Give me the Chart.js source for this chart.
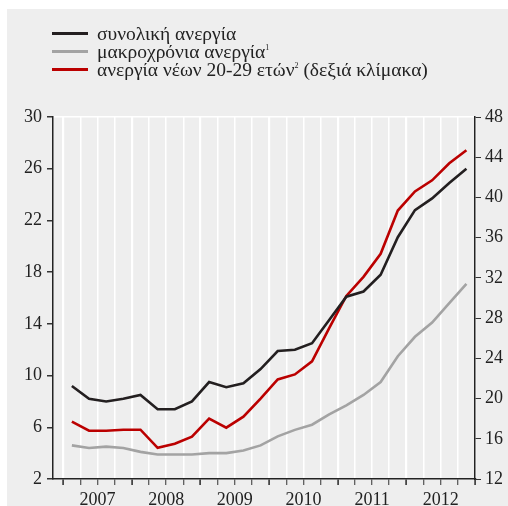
<!DOCTYPE html>
<html>
<head>
<meta charset="utf-8">
<script src="https://cdn.jsdelivr.net/npm/chart.js@4.4.0/dist/chart.umd.min.js"></script>
<style>
  body { margin: 0; background: #fff; font-family: "Liberation Serif", serif; }
  #panel { position: absolute; left: 7px; top: 9px; width: 501px; height: 497px; background: #eeeeee; }
  #legend { position: absolute; left: 52px; top: 25px; color: #222; font-size: 19.5px; }
  .row { display: flex; align-items: center; height: 17.8px; white-space: nowrap; }
  .sw { width: 36px; height: 3px; margin-right: 9px; }
  sup { font-size: 8px; vertical-align: 8px; line-height: 0; }
</style>
</head>
<body>
<div id="panel"><canvas id="chart"></canvas></div>
<div id="legend"></div>
<script>
// trimestres 2007Q1 - 2012Q4 (índice 0..23)
const quarters = ["2007Q1","2007Q2","2007Q3","2007Q4","2008Q1","2008Q2","2008Q3","2008Q4",
  "2009Q1","2009Q2","2009Q3","2009Q4","2010Q1","2010Q2","2010Q3","2010Q4",
  "2011Q1","2011Q2","2011Q3","2011Q4","2012Q1","2012Q2","2012Q3","2012Q4"];
const years = ["2007","2008","2009","2010","2011","2012"];

// συνολική ανεργία (αριστερή κλίμακα)
const total = [9.2, 8.2, 8.0, 8.2, 8.5, 7.4, 7.4, 8.0, 9.5, 9.1, 9.4, 10.5,
  11.9, 12.0, 12.5, 14.3, 16.1, 16.5, 17.8, 20.7, 22.8, 23.7, 24.9, 26.0];
// μακροχρόνια ανεργία (αριστερή κλίμακα)
const longTerm = [4.6, 4.4, 4.5, 4.4, 4.1, 3.9, 3.9, 3.9, 4.0, 4.0, 4.2, 4.6,
  5.3, 5.8, 6.2, 7.0, 7.7, 8.5, 9.5, 11.5, 13.0, 14.1, 15.6, 17.1];
// ανεργία νέων 20-29 (δεξιά κλίμακα)
const youth = [17.7, 16.8, 16.8, 16.9, 16.9, 15.1, 15.5, 16.2, 18.0, 17.1, 18.2, 20.0,
  21.9, 22.4, 23.7, 27.0, 30.2, 32.1, 34.4, 38.7, 40.6, 41.7, 43.4, 44.7];

const leftTicks = [2, 6, 10, 14, 18, 22, 26, 30];
const rightTicks = [12, 16, 20, 24, 28, 32, 36, 40, 44, 48];

const legendItems = [
  { color: "#231f20", html: "συνολική ανεργία" },
  { color: "#a3a3a3", html: "μακροχρόνια ανεργία<sup>1</sup>" },
  { color: "#bb0000", html: "ανεργία νέων 20-29 ετών<sup>2</sup> (δεξιά κλίμακα)" },
];

const toPoints = (arr) => arr.map((v, i) => ({ x: i, y: v }));

// όρια τριμήνων για τις κάθετες γραμμές
const boundaries = [];
for (let i = 0; i <= quarters.length; i++) boundaries.push(i - 0.5);
const isYearEdge = (v) => Math.abs(((v + 0.5) % 4)) < 1e-6;

Chart.defaults.font.family = "'Liberation Serif', serif";
Chart.defaults.font.size = 18;
Chart.defaults.color = "#222";

const ctx = document.getElementById("chart").getContext("2d");
new Chart(ctx, {
  type: "line",
  data: {
    datasets: [
      { label: "συνολική ανεργία", data: toPoints(total), borderColor: "#231f20", yAxisID: "y" },
      { label: "μακροχρόνια ανεργία", data: toPoints(longTerm), borderColor: "#a3a3a3", yAxisID: "y" },
      { label: "ανεργία νέων 20-29 ετών", data: toPoints(youth), borderColor: "#bb0000", yAxisID: "y1" },
    ],
  },
  options: {
    responsive: true,
    maintainAspectRatio: false,
    animation: false,
    layout: { padding: { top: 108, left: 0, right: 0, bottom: 0 } },
    elements: {
      line: { borderWidth: 2.6, tension: 0, fill: false },
      point: { radius: 0 },
    },
    plugins: { legend: { display: false }, tooltip: { enabled: false } },
    scales: {
      x: {
        type: "linear",
        min: -1.1,
        max: 23.5,
        afterBuildTicks: (scale) => {
          scale.ticks = boundaries.map((v) => ({ value: v }));
        },
        afterFit: (scale) => { scale.height = 27; },
        ticks: {
          autoSkip: false,
          maxRotation: 0,
          padding: 4,
          callback: (v) => {
            const k = (v - 1.5) / 4;
            return Number.isInteger(k) ? years[k] : "";
          },
        },
        grid: {
          color: "#ffffff",
          lineWidth: (c) => (c.tick && isYearEdge(c.tick.value) ? 2.2 : 1.5),
          tickColor: "#333",
          tickWidth: (c) => (c.tick && isYearEdge(c.tick.value) ? 1.6 : 1),
          tickLength: 6,
        },
        border: { color: "#222", width: 1.5 },
      },
      y: {
        position: "left",
        min: 2,
        max: 30,
        afterBuildTicks: (scale) => {
          scale.ticks = leftTicks.map((v) => ({ value: v }));
        },
        afterFit: (scale) => { scale.width = 46; },
        ticks: { padding: 5 },
        grid: {
          color: (c) => (c.tick && c.tick.value === 30 ? "#ffffff" : "rgba(0,0,0,0)"),
          lineWidth: 1.5,
          tickColor: "#333",
          tickLength: 6,
        },
        border: { color: "#222", width: 1.5 },
      },
      y1: {
        position: "right",
        min: 12,
        max: 48,
        afterBuildTicks: (scale) => {
          scale.ticks = rightTicks.map((v) => ({ value: v }));
        },
        afterFit: (scale) => { scale.width = 33; },
        ticks: { padding: 4 },
        grid: { drawOnChartArea: false, tickColor: "#333", tickLength: 6 },
        border: { color: "#222", width: 1.5 },
      },
    },
  },
});

// legenda em HTML
const legend = document.getElementById("legend");
legend.innerHTML = legendItems
  .map((it) => `<div class="row"><div class="sw" style="background:${it.color}"></div><span>${it.html}</span></div>`)
  .join("");
</script>
</body>
</html>
